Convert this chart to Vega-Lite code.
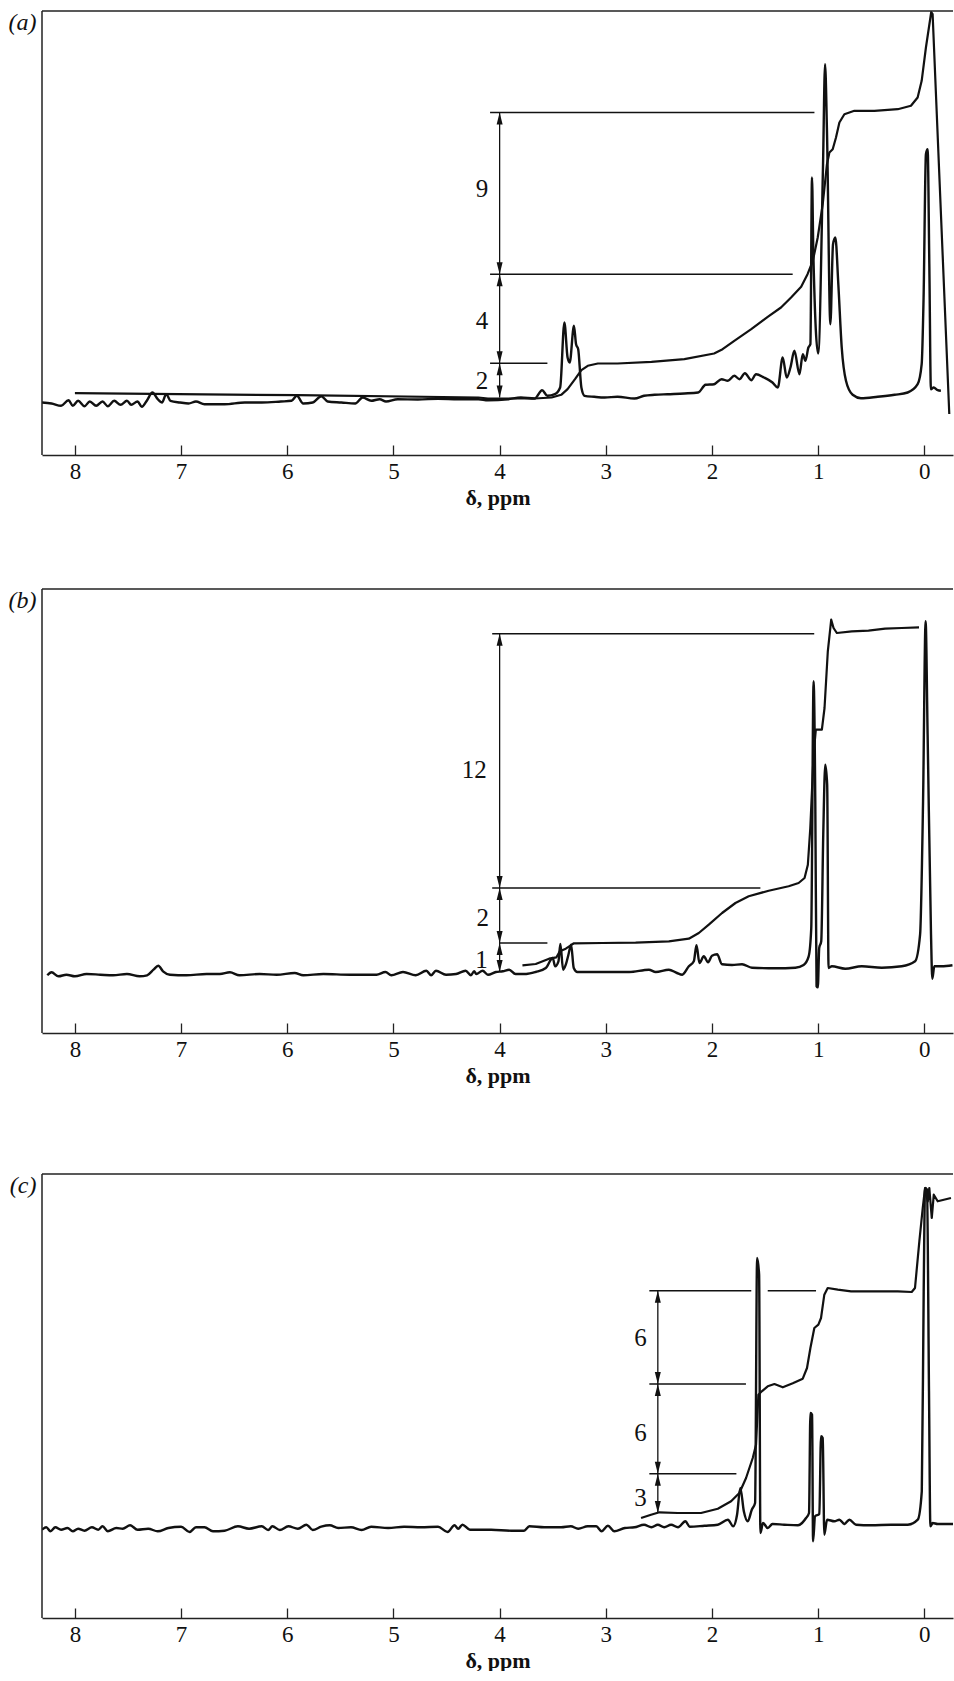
{
"$schema": "https://vega.github.io/schema/vega-lite/v6.json",
"background": "white",
"padding": {"left": 8, "top": 10, "right": 0, "bottom": 0},
"spacing": 134,
"bounds": "flush",
"config": {"view": {"stroke": null}, "font": "Liberation Serif"},
"datasets": {
"specA": [
{"p":8.31,"s":52.5},{"p":8.22,"s":51.5},{"p":8.13,"s":49.2},{"p":8.06,"s":54.8},{"p":8.02,"s":49.2},{"p":7.97,"s":54.2},{"p":7.91,"s":48.8},{"p":7.86,"s":53.5},{"p":7.80,"s":49.2},{"p":7.74,"s":53.5},{"p":7.69,"s":48.8},{"p":7.63,"s":54.2},{"p":7.57,"s":50.2},{"p":7.51,"s":54.2},{"p":7.47,"s":50.2},{"p":7.41,"s":53.5},{"p":7.37,"s":48.2},{"p":7.32,"s":54.8},{"p":7.27,"s":62.5},{"p":7.22,"s":55.8},{"p":7.18,"s":52.5},{"p":7.14,"s":60.8},{"p":7.10,"s":54.2},{"p":7.01,"s":52.5},{"p":6.93,"s":51.5},{"p":6.86,"s":53.5},{"p":6.78,"s":50.8},{"p":6.59,"s":50.8},{"p":6.40,"s":52.5},{"p":6.24,"s":52.5},{"p":6.06,"s":53.5},{"p":5.96,"s":54.2},{"p":5.91,"s":59.2},{"p":5.85,"s":51.5},{"p":5.76,"s":52.5},{"p":5.68,"s":58.8},{"p":5.62,"s":53.5},{"p":5.49,"s":52.5},{"p":5.36,"s":51.5},{"p":5.29,"s":57.5},{"p":5.21,"s":54.2},{"p":5.13,"s":55.8},{"p":5.07,"s":53.5},{"p":4.96,"s":55.8},{"p":4.77,"s":55.5},{"p":4.58,"s":56.2},{"p":4.39,"s":55.8},{"p":4.20,"s":55.8},{"p":4.11,"s":54.8},{"p":3.92,"s":55.8},{"p":3.80,"s":57.5},{"p":3.67,"s":56.5},{"p":3.60,"s":64.8},{"p":3.55,"s":59.2},{"p":3.48,"s":60.8},{"p":3.43,"s":67.5},{"p":3.39,"s":132.5},{"p":3.36,"s":97.5},{"p":3.34,"s":92.5},{"p":3.30,"s":129.2},{"p":3.28,"s":110.8},{"p":3.26,"s":105.8},{"p":3.23,"s":67.5},{"p":3.20,"s":59.2},{"p":3.11,"s":58.2},{"p":3.01,"s":57.5},{"p":2.89,"s":58.2},{"p":2.73,"s":56.5},{"p":2.64,"s":59.2},{"p":2.54,"s":60.2},{"p":2.42,"s":60.8},{"p":2.26,"s":61.5},{"p":2.13,"s":62.5},{"p":2.06,"s":70.2},{"p":1.98,"s":70.8},{"p":1.91,"s":75.8},{"p":1.85,"s":74.2},{"p":1.79,"s":79.2},{"p":1.74,"s":75.8},{"p":1.69,"s":81.8},{"p":1.63,"s":74.8},{"p":1.585,"s":80.8},{"p":1.51,"s":77.5},{"p":1.43,"s":72.5},{"p":1.38,"s":67.5},{"p":1.334,"s":97.5},{"p":1.296,"s":77.5},{"p":1.261,"s":87.5},{"p":1.224,"s":104.2},{"p":1.176,"s":80.8},{"p":1.145,"s":100.8},{"p":1.12,"s":94.2},{"p":1.092,"s":107.5},{"p":1.073,"s":110.8},{"p":1.058,"s":277.5},{"p":1.045,"s":200},{"p":1.0,"s":101.5},{"p":0.954,"s":290.8},{"p":0.935,"s":390.8},{"p":0.917,"s":324.2},{"p":0.885,"s":130.8},{"p":0.86,"s":210.8},{"p":0.838,"s":217.5},{"p":0.81,"s":170.8},{"p":0.778,"s":107.5},{"p":0.738,"s":74.2},{"p":0.675,"s":60.2},{"p":0.597,"s":56.8},{"p":0.44,"s":58.2},{"p":0.28,"s":60.2},{"p":0.157,"s":62.5},{"p":0.063,"s":70.8},{"p":0.025,"s":90.8},{"p":0.007,"s":157.5},{"p":-0.015,"s":300.8},{"p":-0.031,"s":305.8},{"p":-0.047,"s":190.8},{"p":-0.062,"s":65.8},{"p":-0.088,"s":67.5},{"p":-0.125,"s":64.8},{"p":-0.156,"s":64.2}
],
"intA": [
{"p":8.0,"s":61.8},{"p":5.9,"s":59.8},{"p":4.2,"s":57.5},{"p":4.11,"s":56.5},{"p":3.67,"s":56.5},{"p":3.51,"s":57.5},{"p":3.42,"s":60.2},{"p":3.36,"s":65.8},{"p":3.29,"s":75.8},{"p":3.23,"s":84.8},{"p":3.17,"s":89.2},{"p":3.075,"s":91.5},{"p":2.89,"s":91.5},{"p":2.57,"s":93.2},{"p":2.26,"s":95.8},{"p":1.98,"s":101.5},{"p":1.9,"s":105.8},{"p":1.79,"s":114.2},{"p":1.63,"s":125.8},{"p":1.475,"s":138.2},{"p":1.35,"s":147.5},{"p":1.255,"s":157.5},{"p":1.16,"s":168.2},{"p":1.1,"s":180.8},{"p":1.05,"s":194.2},{"p":1.004,"s":217.5},{"p":0.957,"s":250.8},{"p":0.917,"s":290.8},{"p":0.894,"s":302.5},{"p":0.863,"s":305.8},{"p":0.832,"s":317.5},{"p":0.8,"s":332.5},{"p":0.753,"s":340.8},{"p":0.659,"s":344.2},{"p":0.47,"s":344.2},{"p":0.25,"s":345.8},{"p":0.126,"s":349.2},{"p":0.063,"s":357.5},{"p":0.025,"s":374.2},{"p":-0.015,"s":407.5},{"p":-0.065,"s":443},{"p":-0.078,"s":441},{"p":-0.235,"s":41}
],
"specB": [
{"p":8.26,"s":57.7},{"p":8.22,"s":60.7},{"p":8.155,"s":56.7},{"p":8.08,"s":58.3},{"p":8.0,"s":56.7},{"p":7.89,"s":59},{"p":7.76,"s":58.3},{"p":7.64,"s":57.7},{"p":7.51,"s":59},{"p":7.39,"s":56.7},{"p":7.32,"s":57.7},{"p":7.26,"s":63.3},{"p":7.215,"s":67.3},{"p":7.17,"s":61.7},{"p":7.105,"s":58.3},{"p":6.95,"s":57.7},{"p":6.76,"s":59},{"p":6.635,"s":59},{"p":6.54,"s":60.7},{"p":6.45,"s":57.7},{"p":6.26,"s":59},{"p":6.1,"s":58.3},{"p":5.93,"s":60},{"p":5.85,"s":57.7},{"p":5.66,"s":59},{"p":5.41,"s":58.3},{"p":5.16,"s":58.3},{"p":5.075,"s":61},{"p":5.02,"s":57.7},{"p":4.91,"s":61},{"p":4.79,"s":57.7},{"p":4.69,"s":62.3},{"p":4.645,"s":57.7},{"p":4.6,"s":62.3},{"p":4.505,"s":58.3},{"p":4.41,"s":59},{"p":4.32,"s":62.3},{"p":4.27,"s":57.7},{"p":4.24,"s":61.7},{"p":4.22,"s":59},{"p":4.16,"s":62.3},{"p":4.11,"s":58.3},{"p":4.035,"s":61},{"p":3.97,"s":61.7},{"p":3.91,"s":63.3},{"p":3.85,"s":59},{"p":3.75,"s":59},{"p":3.66,"s":61},{"p":3.565,"s":65},{"p":3.5,"s":75},{"p":3.477,"s":66.7},{"p":3.446,"s":71.7},{"p":3.428,"s":89},{"p":3.402,"s":63.3},{"p":3.377,"s":68.3},{"p":3.352,"s":78.3},{"p":3.327,"s":88.3},{"p":3.302,"s":65},{"p":3.268,"s":61},{"p":3.033,"s":61},{"p":2.78,"s":61},{"p":2.594,"s":63.3},{"p":2.53,"s":61},{"p":2.406,"s":63.3},{"p":2.33,"s":60},{"p":2.28,"s":58.3},{"p":2.218,"s":66.7},{"p":2.171,"s":71.7},{"p":2.146,"s":87.7},{"p":2.118,"s":70},{"p":2.077,"s":76.7},{"p":2.037,"s":70.7},{"p":2.0,"s":77.3},{"p":1.952,"s":78.7},{"p":1.905,"s":68.7},{"p":1.811,"s":68},{"p":1.717,"s":68.7},{"p":1.623,"s":65.3},{"p":1.403,"s":64.7},{"p":1.215,"s":65.3},{"p":1.137,"s":68},{"p":1.09,"s":76.3},{"p":1.065,"s":104.7},{"p":1.043,"s":351.7},{"p":1.027,"s":231.7},{"p":1.015,"s":46.7},{"p":1.003,"s":45.7},{"p":0.99,"s":85},{"p":0.971,"s":91.7},{"p":0.952,"s":198.3},{"p":0.933,"s":268.3},{"p":0.915,"s":248.3},{"p":0.902,"s":65},{"p":0.871,"s":66.7},{"p":0.745,"s":64.3},{"p":0.589,"s":66.7},{"p":0.401,"s":65.3},{"p":0.213,"s":66.7},{"p":0.087,"s":71.7},{"p":0.04,"s":98.3},{"p":0.012,"s":231.7},{"p":-0.012,"s":411.7},{"p":-0.031,"s":298.3},{"p":-0.063,"s":98.3},{"p":-0.075,"s":54.3},{"p":-0.094,"s":66.7},{"p":-0.163,"s":66.7},{"p":-0.265,"s":67.7}
],
"intB": [
{"p":3.785,"s":67.7},{"p":3.66,"s":69},{"p":3.534,"s":74.3},{"p":3.465,"s":75.7},{"p":3.433,"s":81.7},{"p":3.377,"s":84.3},{"p":3.33,"s":87.7},{"p":3.3,"s":89.7},{"p":3.033,"s":90},{"p":2.719,"s":90.3},{"p":2.406,"s":91.7},{"p":2.218,"s":94.3},{"p":2.124,"s":100},{"p":2.03,"s":108.3},{"p":1.905,"s":120},{"p":1.779,"s":130},{"p":1.654,"s":136.7},{"p":1.466,"s":142.3},{"p":1.278,"s":146.7},{"p":1.184,"s":150},{"p":1.128,"s":155},{"p":1.097,"s":168.3},{"p":1.074,"s":205},{"p":1.043,"s":278.3},{"p":1.022,"s":303.3},{"p":0.965,"s":303.3},{"p":0.94,"s":325},{"p":0.909,"s":381.7},{"p":0.877,"s":413.3},{"p":0.855,"s":405},{"p":0.824,"s":400},{"p":0.683,"s":401.7},{"p":0.526,"s":402.3},{"p":0.369,"s":404.3},{"p":0.213,"s":405},{"p":0.05,"s":405.7}
],
"specC": [
{"p":8.31,"s":88.3},{"p":8.27,"s":90.7},{"p":8.23,"s":86.7},{"p":8.185,"s":90.7},{"p":8.13,"s":88.3},{"p":8.07,"s":90},{"p":8.02,"s":86.7},{"p":7.97,"s":89.3},{"p":7.91,"s":87.3},{"p":7.84,"s":90.7},{"p":7.78,"s":88.3},{"p":7.74,"s":91.7},{"p":7.69,"s":86.7},{"p":7.61,"s":90},{"p":7.55,"s":89.3},{"p":7.48,"s":92.7},{"p":7.41,"s":88.3},{"p":7.31,"s":89.3},{"p":7.22,"s":86.7},{"p":7.12,"s":90},{"p":7.0,"s":91.3},{"p":6.92,"s":86},{"p":6.86,"s":90.7},{"p":6.78,"s":90.7},{"p":6.7,"s":86.7},{"p":6.59,"s":87.3},{"p":6.465,"s":91.7},{"p":6.36,"s":89.3},{"p":6.24,"s":91.7},{"p":6.18,"s":88},{"p":6.14,"s":91.7},{"p":6.07,"s":88},{"p":5.99,"s":91.7},{"p":5.9,"s":89.3},{"p":5.82,"s":93.3},{"p":5.76,"s":88},{"p":5.68,"s":91.3},{"p":5.6,"s":92.7},{"p":5.52,"s":90},{"p":5.4,"s":90.7},{"p":5.3,"s":88},{"p":5.21,"s":91.3},{"p":5.05,"s":90},{"p":4.9,"s":91.3},{"p":4.74,"s":90.7},{"p":4.58,"s":91.3},{"p":4.49,"s":86},{"p":4.425,"s":92.7},{"p":4.39,"s":89.3},{"p":4.35,"s":93.3},{"p":4.28,"s":88.3},{"p":4.17,"s":88.3},{"p":4.08,"s":88.3},{"p":3.89,"s":87.3},{"p":3.77,"s":87.3},{"p":3.72,"s":91.7},{"p":3.58,"s":90.7},{"p":3.42,"s":90.7},{"p":3.33,"s":91.7},{"p":3.26,"s":89.3},{"p":3.17,"s":91.7},{"p":3.09,"s":91.7},{"p":3.04,"s":86.7},{"p":2.98,"s":92.3},{"p":2.92,"s":86.7},{"p":2.82,"s":90},{"p":2.73,"s":90.7},{"p":2.64,"s":93.3},{"p":2.57,"s":90.7},{"p":2.51,"s":93.3},{"p":2.45,"s":90.7},{"p":2.385,"s":93.3},{"p":2.32,"s":90.7},{"p":2.25,"s":96.7},{"p":2.21,"s":91.3},{"p":2.07,"s":92.3},{"p":1.945,"s":93.3},{"p":1.85,"s":98.3},{"p":1.8,"s":91.7},{"p":1.764,"s":103.3},{"p":1.733,"s":130},{"p":1.7,"s":106.7},{"p":1.663,"s":96.7},{"p":1.625,"s":108.3},{"p":1.594,"s":115},{"p":1.575,"s":360},{"p":1.556,"s":343.3},{"p":1.544,"s":85},{"p":1.519,"s":95},{"p":1.475,"s":90},{"p":1.43,"s":94},{"p":1.32,"s":93.3},{"p":1.19,"s":92.7},{"p":1.114,"s":100},{"p":1.086,"s":105},{"p":1.073,"s":205},{"p":1.057,"s":203.3},{"p":1.048,"s":76.7},{"p":1.029,"s":101.7},{"p":0.989,"s":104},{"p":0.973,"s":181.7},{"p":0.957,"s":180},{"p":0.942,"s":83.3},{"p":0.916,"s":98.3},{"p":0.847,"s":96.7},{"p":0.8,"s":98.3},{"p":0.753,"s":94},{"p":0.706,"s":98.3},{"p":0.643,"s":93.3},{"p":0.502,"s":92.7},{"p":0.314,"s":93.3},{"p":0.156,"s":93.3},{"p":0.062,"s":98.3},{"p":0.024,"s":126.7},{"p":0.006,"s":326.7},{"p":-0.007,"s":430},{"p":-0.025,"s":428.3},{"p":-0.044,"s":226.7},{"p":-0.057,"s":91.7},{"p":-0.079,"s":95},{"p":-0.126,"s":94},{"p":-0.29,"s":94}
],
"intC": [
{"p":2.668,"s":100},{"p":2.574,"s":103.3},{"p":2.495,"s":105.7},{"p":2.322,"s":105},{"p":2.103,"s":105},{"p":1.945,"s":109.3},{"p":1.82,"s":116.7},{"p":1.742,"s":125},{"p":1.679,"s":140},{"p":1.616,"s":160},{"p":1.585,"s":173.3},{"p":1.563,"s":223.3},{"p":1.531,"s":226.7},{"p":1.475,"s":231.7},{"p":1.412,"s":234},{"p":1.333,"s":230.7},{"p":1.239,"s":234.7},{"p":1.145,"s":239.3},{"p":1.105,"s":250},{"p":1.073,"s":270},{"p":1.036,"s":290},{"p":0.998,"s":293.3},{"p":0.973,"s":300},{"p":0.942,"s":323.3},{"p":0.91,"s":330},{"p":0.815,"s":328.3},{"p":0.69,"s":326.7},{"p":0.502,"s":326.7},{"p":0.25,"s":326.7},{"p":0.119,"s":326},{"p":0.088,"s":330},{"p":0.047,"s":376.7},{"p":0.015,"s":410},{"p":-0.007,"s":430},{"p":-0.032,"s":416.7},{"p":-0.047,"s":430},{"p":-0.07,"s":400},{"p":-0.089,"s":423.3},{"p":-0.126,"s":416.7},{"p":-0.251,"s":420}
],
"refs": [
{"panel":"a","p1":4.09,"p2":1.035,"s":342.5},{"panel":"a","p1":4.09,"p2":1.24,"s":180.8},{"panel":"a","p1":4.09,"p2":3.55,"s":91.8},
{"panel":"b","p1":4.07,"p2":1.037,"s":399.3},{"panel":"b","p1":4.07,"p2":1.544,"s":145},{"panel":"b","p1":4.0,"p2":3.55,"s":90},
{"panel":"c","p1":2.59,"p2":1.63,"s":327.3},{"panel":"c","p1":1.475,"p2":1.02,"s":327.3},{"panel":"c","p1":2.59,"p2":1.68,"s":234},{"panel":"c","p1":2.59,"p2":1.77,"s":144.3}
],
"arrows": [
{"panel":"a","p":4.0,"s1":342.5,"s2":180.8},{"panel":"a","p":4.0,"s1":180.8,"s2":91.8},{"panel":"a","p":4.0,"s1":91.8,"s2":57.5},
{"panel":"b","p":4.0,"s1":399.3,"s2":145},{"panel":"b","p":4.0,"s1":145,"s2":90},{"panel":"b","p":4.0,"s1":90,"s2":61},
{"panel":"c","p":2.51,"s1":327.3,"s2":234},{"panel":"c","p":2.51,"s1":234,"s2":144.3},{"panel":"c","p":2.51,"s1":144.3,"s2":105}
],
"heads": [
{"panel":"a","p":4.0,"s":342.5,"dir":"up"},{"panel":"a","p":4.0,"s":180.8,"dir":"down"},{"panel":"a","p":4.0,"s":180.8,"dir":"up"},{"panel":"a","p":4.0,"s":91.8,"dir":"down"},{"panel":"a","p":4.0,"s":91.8,"dir":"up"},{"panel":"a","p":4.0,"s":57.5,"dir":"down"},
{"panel":"b","p":4.0,"s":399.3,"dir":"up"},{"panel":"b","p":4.0,"s":145,"dir":"down"},{"panel":"b","p":4.0,"s":145,"dir":"up"},{"panel":"b","p":4.0,"s":90,"dir":"down"},{"panel":"b","p":4.0,"s":90,"dir":"up"},{"panel":"b","p":4.0,"s":61,"dir":"down"},
{"panel":"c","p":2.51,"s":327.3,"dir":"up"},{"panel":"c","p":2.51,"s":234,"dir":"down"},{"panel":"c","p":2.51,"s":234,"dir":"up"},{"panel":"c","p":2.51,"s":144.3,"dir":"down"},{"panel":"c","p":2.51,"s":144.3,"dir":"up"},{"panel":"c","p":2.51,"s":105,"dir":"down"}
],
"labels": [
{"panel":"a","p":4.167,"s":265.8,"label":"9"},{"panel":"a","p":4.167,"s":134.2,"label":"4"},{"panel":"a","p":4.167,"s":74.2,"label":"2"},
{"panel":"b","p":4.24,"s":263.3,"label":"12"},{"panel":"b","p":4.16,"s":115,"label":"2"},{"panel":"b","p":4.17,"s":73.3,"label":"1"},
{"panel":"c","p":2.674,"s":280,"label":"6"},{"panel":"c","p":2.674,"s":185,"label":"6"},{"panel":"c","p":2.674,"s":120,"label":"3"}
]
},
"vconcat": [
{
"width": 911, "height": 444,
"layer": [
{"data": {"name": "specA"}, "mark": {"type": "line", "color": "#111", "strokeWidth": 2.4, "clip": true, "strokeJoin": "round", "interpolate": "monotone"},
 "encoding": {
  "x": {"field": "p", "type": "quantitative", "scale": {"domain": [-0.27, 8.31], "reverse": true, "nice": false, "zero": false},
   "axis": {"title": "δ, ppm", "values": [0,1,2,3,4,5,6,7,8], "format": "d", "grid": false, "tickSize": -10, "tickWidth": 1.3, "tickColor": "#222", "domainColor": "#222", "domainWidth": 1.5, "labelFontSize": 23, "labelColor": "#111", "labelPadding": 15, "labelFlush": false, "labelOverlap": false, "labelFont": "Liberation Serif", "titleFont": "Liberation Serif", "titleFontSize": 22, "titleFontWeight": "bold", "titleColor": "#111", "titlePadding": 4}},
  "y": {"field": "s", "type": "quantitative", "scale": {"domain": [0, 444], "nice": false, "zero": false},
   "axis": {"title": "(a)", "domain": false, "ticks": false, "labels": false, "grid": false, "titleAngle": 0, "titleAlign": "right", "titleBaseline": "middle", "titleX": -6, "titleY": 11, "titleFont": "Liberation Serif", "titleFontSize": 24, "titleFontWeight": "normal", "titleFontStyle": "italic", "titleColor": "#111"}}
 }},
{"data": {"name": "intA"}, "mark": {"type": "line", "color": "#111", "strokeWidth": 2.2, "clip": true, "strokeJoin": "round"},
 "encoding": {"x": {"field": "p", "type": "quantitative"}, "y": {"field": "s", "type": "quantitative"}}},
{"data": {"name": "refs"}, "transform": [{"filter": "datum.panel === 'a'"}], "mark": {"type": "rule", "color": "#111", "strokeWidth": 1.4},
 "encoding": {"x": {"field": "p1", "type": "quantitative"}, "x2": {"field": "p2"}, "y": {"field": "s", "type": "quantitative"}}},
{"data": {"name": "arrows"}, "transform": [{"filter": "datum.panel === 'a'"}], "mark": {"type": "rule", "color": "#111", "strokeWidth": 1.3},
 "encoding": {"x": {"field": "p", "type": "quantitative"}, "y": {"field": "s1", "type": "quantitative"}, "y2": {"field": "s2"}}},
{"data": {"name": "heads"}, "transform": [{"filter": "datum.panel === 'a'"}], "mark": {"type": "point", "filled": true, "size": 144, "color": "#111", "opacity": 1},
 "encoding": {"x": {"field": "p", "type": "quantitative"}, "y": {"field": "s", "type": "quantitative"},
  "shape": {"field": "dir", "type": "nominal", "scale": {"domain": ["up", "down"], "range": ["M0,0L0.5,2L-0.5,2Z", "M0,0L0.5,-2L-0.5,-2Z"]}, "legend": null}}},
{"data": {"name": "labels"}, "transform": [{"filter": "datum.panel === 'a'"}], "mark": {"type": "text", "fontSize": 25, "color": "#111", "font": "Liberation Serif", "align": "center", "baseline": "middle"},
 "encoding": {"x": {"field": "p", "type": "quantitative"}, "y": {"field": "s", "type": "quantitative"}, "text": {"field": "label"}}},
{"data": {"values": [{}]}, "mark": {"type": "rule", "color": "#222", "strokeWidth": 1.5},
 "encoding": {"x": {"datum": 8.31, "type": "quantitative"}, "x2": {"datum": -0.27}, "y": {"datum": 444, "type": "quantitative"}}},
{"data": {"values": [{}]}, "mark": {"type": "rule", "color": "#222", "strokeWidth": 1.5},
 "encoding": {"x": {"datum": 8.31, "type": "quantitative"}, "y": {"datum": 0, "type": "quantitative"}, "y2": {"datum": 444}}}
]
},
{
"width": 911, "height": 444,
"layer": [
{"data": {"name": "specB"}, "mark": {"type": "line", "color": "#111", "strokeWidth": 2.4, "clip": true, "strokeJoin": "round", "interpolate": "monotone"},
 "encoding": {
  "x": {"field": "p", "type": "quantitative", "scale": {"domain": [-0.27, 8.31], "reverse": true, "nice": false, "zero": false},
   "axis": {"title": "δ, ppm", "values": [0,1,2,3,4,5,6,7,8], "format": "d", "grid": false, "tickSize": -10, "tickWidth": 1.3, "tickColor": "#222", "domainColor": "#222", "domainWidth": 1.5, "labelFontSize": 23, "labelColor": "#111", "labelPadding": 15, "labelFlush": false, "labelOverlap": false, "labelFont": "Liberation Serif", "titleFont": "Liberation Serif", "titleFontSize": 22, "titleFontWeight": "bold", "titleColor": "#111", "titlePadding": 4}},
  "y": {"field": "s", "type": "quantitative", "scale": {"domain": [0, 444], "nice": false, "zero": false},
   "axis": {"title": "(b)", "domain": false, "ticks": false, "labels": false, "grid": false, "titleAngle": 0, "titleAlign": "right", "titleBaseline": "middle", "titleX": -6, "titleY": 11, "titleFont": "Liberation Serif", "titleFontSize": 24, "titleFontWeight": "normal", "titleFontStyle": "italic", "titleColor": "#111"}}
 }},
{"data": {"name": "intB"}, "mark": {"type": "line", "color": "#111", "strokeWidth": 2.2, "clip": true, "strokeJoin": "round"},
 "encoding": {"x": {"field": "p", "type": "quantitative"}, "y": {"field": "s", "type": "quantitative"}}},
{"data": {"name": "refs"}, "transform": [{"filter": "datum.panel === 'b'"}], "mark": {"type": "rule", "color": "#111", "strokeWidth": 1.4},
 "encoding": {"x": {"field": "p1", "type": "quantitative"}, "x2": {"field": "p2"}, "y": {"field": "s", "type": "quantitative"}}},
{"data": {"name": "arrows"}, "transform": [{"filter": "datum.panel === 'b'"}], "mark": {"type": "rule", "color": "#111", "strokeWidth": 1.3},
 "encoding": {"x": {"field": "p", "type": "quantitative"}, "y": {"field": "s1", "type": "quantitative"}, "y2": {"field": "s2"}}},
{"data": {"name": "heads"}, "transform": [{"filter": "datum.panel === 'b'"}], "mark": {"type": "point", "filled": true, "size": 144, "color": "#111", "opacity": 1},
 "encoding": {"x": {"field": "p", "type": "quantitative"}, "y": {"field": "s", "type": "quantitative"},
  "shape": {"field": "dir", "type": "nominal", "scale": {"domain": ["up", "down"], "range": ["M0,0L0.5,2L-0.5,2Z", "M0,0L0.5,-2L-0.5,-2Z"]}, "legend": null}}},
{"data": {"name": "labels"}, "transform": [{"filter": "datum.panel === 'b'"}], "mark": {"type": "text", "fontSize": 25, "color": "#111", "font": "Liberation Serif", "align": "center", "baseline": "middle"},
 "encoding": {"x": {"field": "p", "type": "quantitative"}, "y": {"field": "s", "type": "quantitative"}, "text": {"field": "label"}}},
{"data": {"values": [{}]}, "mark": {"type": "rule", "color": "#222", "strokeWidth": 1.5},
 "encoding": {"x": {"datum": 8.31, "type": "quantitative"}, "x2": {"datum": -0.27}, "y": {"datum": 444, "type": "quantitative"}}},
{"data": {"values": [{}]}, "mark": {"type": "rule", "color": "#222", "strokeWidth": 1.5},
 "encoding": {"x": {"datum": 8.31, "type": "quantitative"}, "y": {"datum": 0, "type": "quantitative"}, "y2": {"datum": 444}}}
]
},
{
"width": 911, "height": 451,
"layer": [
{"data": {"name": "specC"}, "mark": {"type": "line", "color": "#111", "strokeWidth": 2.4, "clip": true, "strokeJoin": "round", "interpolate": "monotone"},
 "encoding": {
  "x": {"field": "p", "type": "quantitative", "scale": {"domain": [-0.27, 8.31], "reverse": true, "nice": false, "zero": false},
   "axis": {"title": "δ, ppm", "values": [0,1,2,3,4,5,6,7,8], "format": "d", "grid": false, "tickSize": -10, "tickWidth": 1.3, "tickColor": "#222", "domainColor": "#222", "domainWidth": 1.5, "labelFontSize": 23, "labelColor": "#111", "labelPadding": 15, "labelFlush": false, "labelOverlap": false, "labelFont": "Liberation Serif", "titleFont": "Liberation Serif", "titleFontSize": 22, "titleFontWeight": "bold", "titleColor": "#111", "titlePadding": 4}},
  "y": {"field": "s", "type": "quantitative", "scale": {"domain": [0, 451], "nice": false, "zero": false},
   "axis": {"title": "(c)", "domain": false, "ticks": false, "labels": false, "grid": false, "titleAngle": 0, "titleAlign": "right", "titleBaseline": "middle", "titleX": -6, "titleY": 18, "titleFont": "Liberation Serif", "titleFontSize": 24, "titleFontWeight": "normal", "titleFontStyle": "italic", "titleColor": "#111"}}
 }},
{"data": {"name": "intC"}, "mark": {"type": "line", "color": "#111", "strokeWidth": 2.2, "clip": true, "strokeJoin": "round"},
 "encoding": {"x": {"field": "p", "type": "quantitative"}, "y": {"field": "s", "type": "quantitative"}}},
{"data": {"name": "refs"}, "transform": [{"filter": "datum.panel === 'c'"}], "mark": {"type": "rule", "color": "#111", "strokeWidth": 1.4},
 "encoding": {"x": {"field": "p1", "type": "quantitative"}, "x2": {"field": "p2"}, "y": {"field": "s", "type": "quantitative"}}},
{"data": {"name": "arrows"}, "transform": [{"filter": "datum.panel === 'c'"}], "mark": {"type": "rule", "color": "#111", "strokeWidth": 1.3},
 "encoding": {"x": {"field": "p", "type": "quantitative"}, "y": {"field": "s1", "type": "quantitative"}, "y2": {"field": "s2"}}},
{"data": {"name": "heads"}, "transform": [{"filter": "datum.panel === 'c'"}], "mark": {"type": "point", "filled": true, "size": 144, "color": "#111", "opacity": 1},
 "encoding": {"x": {"field": "p", "type": "quantitative"}, "y": {"field": "s", "type": "quantitative"},
  "shape": {"field": "dir", "type": "nominal", "scale": {"domain": ["up", "down"], "range": ["M0,0L0.5,2L-0.5,2Z", "M0,0L0.5,-2L-0.5,-2Z"]}, "legend": null}}},
{"data": {"name": "labels"}, "transform": [{"filter": "datum.panel === 'c'"}], "mark": {"type": "text", "fontSize": 25, "color": "#111", "font": "Liberation Serif", "align": "center", "baseline": "middle"},
 "encoding": {"x": {"field": "p", "type": "quantitative"}, "y": {"field": "s", "type": "quantitative"}, "text": {"field": "label"}}},
{"data": {"values": [{}]}, "mark": {"type": "rule", "color": "#222", "strokeWidth": 1.5},
 "encoding": {"x": {"datum": 8.31, "type": "quantitative"}, "x2": {"datum": -0.27}, "y": {"datum": 444, "type": "quantitative"}}},
{"data": {"values": [{}]}, "mark": {"type": "rule", "color": "#222", "strokeWidth": 1.5},
 "encoding": {"x": {"datum": 8.31, "type": "quantitative"}, "y": {"datum": 0, "type": "quantitative"}, "y2": {"datum": 444}}}
]
}
]
}
